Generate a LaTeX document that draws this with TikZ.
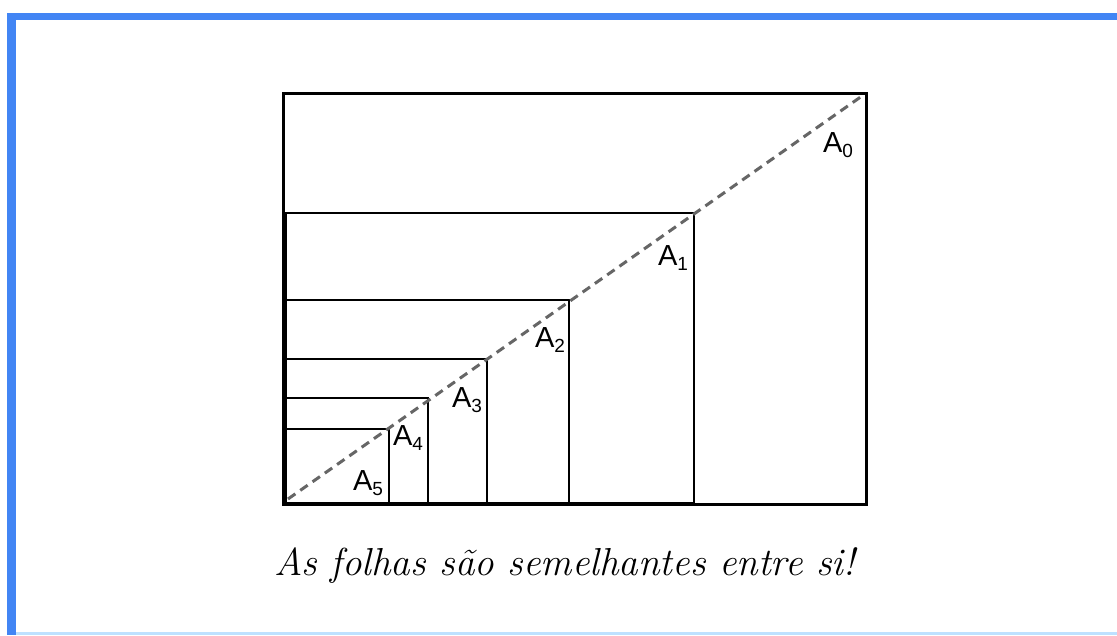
\documentclass[tikz,border=0pt]{standalone}
\usepackage{fontspec}
\newfontfamily\labfont{Liberation Sans}
\definecolor{frameblue}{RGB}{66,133,244}
\definecolor{lightblue}{RGB}{190,225,255}
\begin{document}
\begin{tikzpicture}[x=1pt,y=-1pt,
  sheet/.style={draw=black,line width=2pt},
  outer/.style={draw=black,line width=3pt},
  diag/.style={draw=black!60,line width=3pt,dash pattern=on 9pt off 6pt},
  lab/.style={font=\labfont\fontsize{29}{32}\selectfont,inner sep=0pt,text=black},
  caption/.style={font=\fontsize{39}{44}\selectfont\itshape,inner sep=0pt}]
\useasboundingbox (0,0) rectangle (1117,635);
\fill[white] (0,0) rectangle (1117,635);
% frame
\fill[frameblue] (7,13) rectangle (1117,20);
\fill[frameblue] (7,13) rectangle (16,635);
\fill[lightblue] (16,632) rectangle (1117,635);
% sheets
\coordinate (O) at (286,503);
\coordinate (c0) at (866,93);
\coordinate (c1) at (694,213);
\coordinate (c2) at (569,300);
\coordinate (c3) at (487,359);
\coordinate (c4) at (428,398);
\coordinate (c5) at (389,429);
\draw[sheet] (O) rectangle (c1);
\draw[sheet] (O) rectangle (c2);
\draw[sheet] (O) rectangle (c3);
\draw[sheet] (O) rectangle (c4);
\draw[sheet] (O) rectangle (c5);
\draw[outer] (283,504) rectangle (c0);
\draw[line width=3pt] (283,504) -- (569,504);
% diagonal
\coordinate (d0) at (288,499);
\coordinate (d1) at (862,96);
\draw[diag] (d0) -- (d1);
% labels
\node[lab] (l0) at (838,145) {A\raisebox{-0.3ex}{\fontsize{19}{21}\selectfont 0}};
\node[lab] (l1) at (673,258) {A\raisebox{-0.3ex}{\fontsize{19}{21}\selectfont 1}};
\node[lab] (l2) at (550,340) {A\raisebox{-0.3ex}{\fontsize{19}{21}\selectfont 2}};
\node[lab] (l3) at (467,400) {A\raisebox{-0.3ex}{\fontsize{19}{21}\selectfont 3}};
\node[lab] (l4) at (408,438) {A\raisebox{-0.3ex}{\fontsize{19}{21}\selectfont 4}};
\node[lab] (l5) at (368,483) {A\raisebox{-0.3ex}{\fontsize{19}{21}\selectfont 5}};
% caption
\node[caption] (cap) at (565,566) {As folhas são semelhantes entre si!};
\end{tikzpicture}
\end{document}
